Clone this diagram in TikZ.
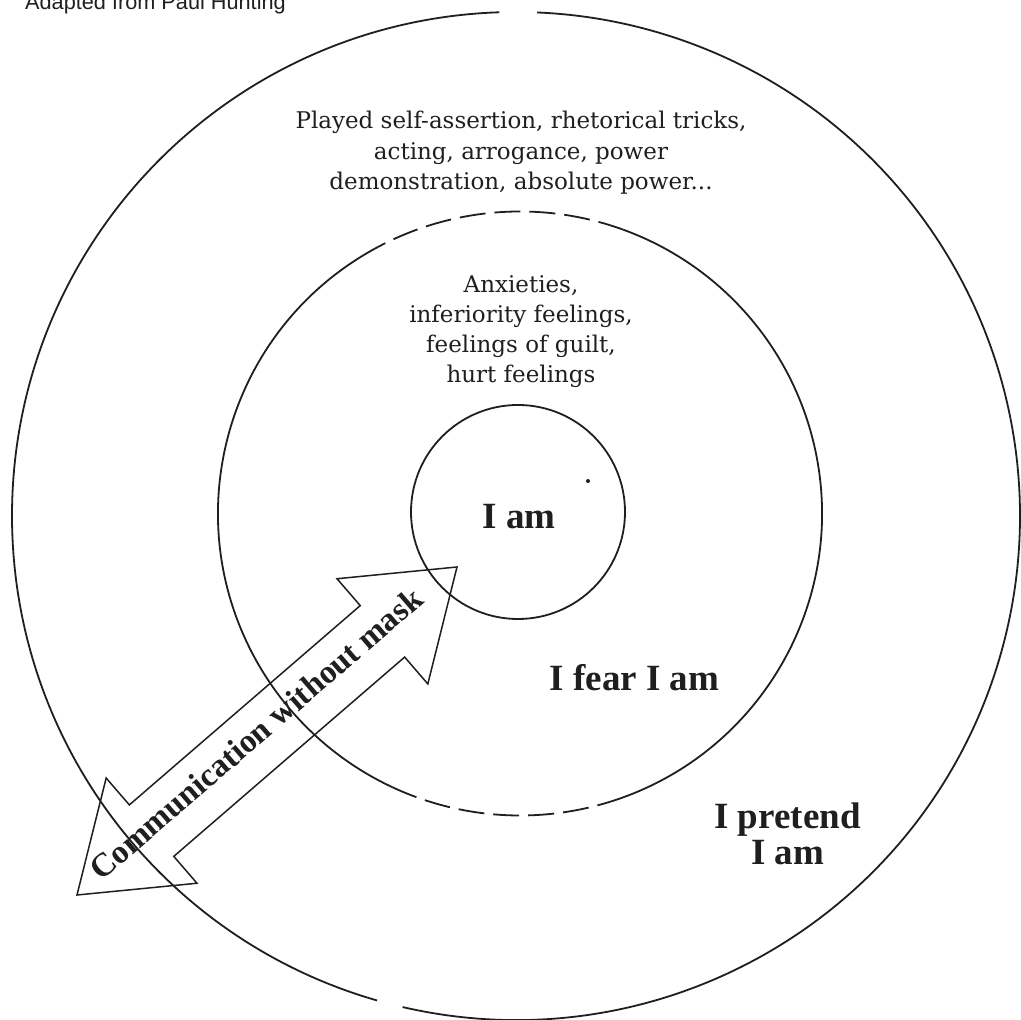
\documentclass[tikz,border=0pt]{standalone}
\usepackage{fontspec}
\setmainfont{DejaVu Serif}
\newfontfamily\boldserif{Liberation Serif}
\newfontfamily\labelsans{Liberation Sans}
\begin{document}
\begin{tikzpicture}[x=1pt,y=1pt,
  ink/.style={black!88},
  ring/.style={ink, line width=1.8pt},
  gapring/.style={ring, dash pattern=on 26pt off 9pt},
  regtext/.style={ink, font=\fontsize{23}{29}\selectfont, anchor=base, inner sep=0pt},
  boldtext/.style={ink, font=\boldserif\bfseries\fontsize{37}{37}\selectfont, anchor=base, inner sep=0pt},
  arrowline/.style={ink, line width=1.5pt, line join=miter}]
\useasboundingbox (0,0) rectangle (1021,1020);
\clip (0,0) rectangle (1021,1020);
\fill[white] (0,0) rectangle (1021,1020);

% outer ring (I pretend I am)
\draw[ring] (516,504) ++(91.9:504) arc[start angle=91.9, end angle=254, radius=504];
\draw[ring] (516,504) ++(257:504) arc[start angle=257, end angle=447.6, radius=504];

% middle ring (I fear I am)
\draw[ring] (520,506.5) ++(118:302) arc[start angle=118, end angle=245, radius=302];
\draw[gapring] (520,506.5) ++(245:302) arc[start angle=245, end angle=285, radius=302];
\draw[ring] (520,506.5) ++(285:302) arc[start angle=285, end angle=430, radius=302];
\draw[gapring] (520,506.5) ++(70:302) arc[start angle=70, end angle=118, radius=302];

% inner ring (I am)
\draw[ring] (518,508) circle[radius=107];
\fill[ink] (588,539) circle[radius=2];

% double arrow
\begin{scope}[shift={(267,289)}, rotate=40.8]
\draw[arrowline] (251,0) -- (152.5,69.5) -- (152.5,34) -- (-152.5,34) -- (-152.5,69.5)
  -- (-251,0) -- (-152.5,-69.5) -- (-152.5,-34) -- (152.5,-34) -- (152.5,-69.5) -- cycle;
\node[boldtext, font=\boldserif\bfseries\fontsize{33}{33}\selectfont, rotate=40.8] (comm) at (-10,-6) {Communication without mask};
\end{scope}

% texts
\node[anchor=base west, inner sep=0pt, ink, font=\labelsans\fontsize{21.7}{22}\selectfont] (src) at (25,1010.5) {Adapted from Paul Hunting};

\node[regtext] (p1) at (521,891) {Played self-assertion, rhetorical tricks,};
\node[regtext] (p2) at (521,860) {acting, arrogance, power};
\node[regtext] (p3) at (521,830) {demonstration, absolute power...};

\node[regtext] (a1) at (521,727) {Anxieties,};
\node[regtext] (a2) at (521,697) {inferiority feelings,};
\node[regtext] (a3) at (521,667) {feelings of guilt,};
\node[regtext] (a4) at (521,637) {hurt feelings};

\node[boldtext] (iam) at (519,491) {I am};
\node[boldtext] (ifear) at (634.5,329) {I fear I am};
\node[boldtext] (ipret1) at (787.5,191) {I pretend};
\node[boldtext] (ipret2) at (787.5,155) {I am};
\end{tikzpicture}
\end{document}
